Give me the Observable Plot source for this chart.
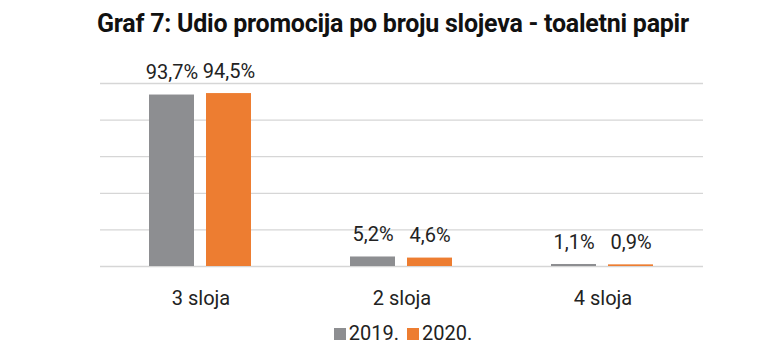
<!DOCTYPE html>
<html><head><meta charset="utf-8">
<script src="https://cdn.jsdelivr.net/npm/d3@7"></script>
<script src="https://cdn.jsdelivr.net/npm/@observablehq/plot@0.6"></script>
<style>
body{margin:0;background:#fff;font-family:Roboto,sans-serif;}
#wrap{width:780px;height:355px;position:relative;overflow:hidden;}
#title{position:absolute;left:3px;width:780px;top:9px;text-align:center;font-weight:700;font-size:25px;line-height:30px;color:#111;letter-spacing:-0.25px;}
#chart{position:absolute;left:0;top:50px;}
#legend{position:absolute;left:13px;width:780px;top:320px;line-height:26px;text-align:center;font-size:20px;color:#222;}
#legend span.sw{display:inline-block;width:12px;height:12px;margin-right:3px;vertical-align:0px;}
#legend span.item{margin:0 4px;}
</style></head>
<body><div id="wrap"><div id="title">Graf 7: Udio promocija po broju slojeva - toaletni papir</div><div id="chart"></div><div id="legend"></div></div>
<script>
const categories = ["3 sloja","2 sloja","4 sloja"];
const years = ["2019.","2020."];
const v2019 = [93.7,5.2,1.1];
const v2020 = [94.5,4.6,0.9];
const colors = ["#8d8e91","#ed7d31"];
const gridTicks = [0,20,40,60,80,100];

const data = [];
categories.forEach((c,i)=>{
  data.push({cat:c, year:years[0], value:v2019[i]});
  data.push({cat:c, year:years[1], value:v2020[i]});
});
const fmt = v => String(v.toFixed(1)).replace(".",",") + "%";

const chart = Plot.plot({
  width:780, height:265,
  marginLeft:100, marginRight:77, marginTop:33, marginBottom:49,
  style:{fontFamily:"Roboto, sans-serif", fontSize:"20px", color:"#222", background:"transparent"},
  fx:{domain:categories, padding:0, label:null, tickSize:0, tickPadding:24},
  x:{domain:years, paddingInner:0.21, paddingOuter:0.868, axis:null},
  y:{domain:[0,100], axis:null},
  color:{domain:years, range:colors},
  marks:[
    Plot.ruleY(gridTicks,{stroke:"#d6d6d6", strokeWidth:1.3}),
    Plot.barY(data,{fx:"cat", x:"year", y:"value", fill:"year"}),
    Plot.text(data,{fx:"cat", x:"year", y:"value", text:d=>fmt(d.value), dy:-22, fontSize:20, fill:"#222"})
  ]
});
document.getElementById("chart").appendChild(chart);
const lg = document.getElementById("legend");
lg.innerHTML = years.map((y,i)=>`<span class="item"><span class="sw" style="background:${colors[i]}"></span>${y}</span>`).join("");
</script></body></html>
